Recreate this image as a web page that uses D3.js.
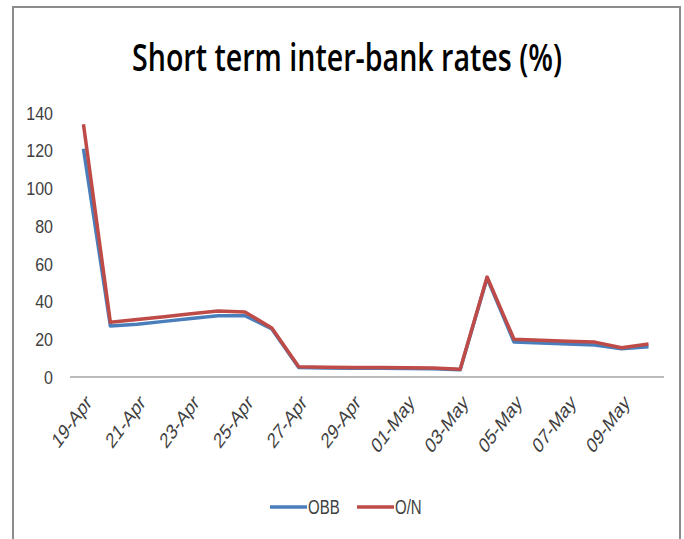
<!DOCTYPE html>
<html>
<head>
<meta charset="utf-8">
<script src="https://cdn.jsdelivr.net/npm/d3@7"></script>
<style>
  body { margin: 0; background: #fff; }
  svg { display: block; }
</style>
</head>
<body>
<div id="chart"></div>
<script>
// daily categories 19-Apr .. 10-May
let days = ['19-Apr','20-Apr','21-Apr','22-Apr','23-Apr','24-Apr','25-Apr','26-Apr','27-Apr','28-Apr','29-Apr','30-Apr',
            '01-May','02-May','03-May','04-May','05-May','06-May','07-May','08-May','09-May','10-May'];
let obb = [121, 27, 28, 29.5, 31, 32.5, 32.5, 25.5, 5, 4.8, 4.7, 4.6, 4.5, 4.4, 3.8, 52.5, 18.5, 18, 17.5, 17, 15, 16];
let on  = [134, 29, 30.5, 32, 33.5, 35, 34.5, 26, 5.4, 5.2, 5.1, 5, 4.9, 4.8, 4.1, 53, 20, 19.5, 19, 18.5, 15.5, 17.5];
let yTicks = [0, 20, 40, 60, 80, 100, 120, 140];
let xLabels = days.filter((d, i) => i % 2 == 0);
let seriesNames = ['OBB', 'O/N'];
let seriesColors = ['#4a7ebb', '#be4b48'];

let width = 684;
let height = 539;
let stretch = 1.34;   // the picture is stretched vertically, so is its text

let svg = d3.select('#chart').append('svg')
            .attr('width', width)
            .attr('height', height);

// outer frame
svg.append('rect')
    .attr('x', 13).attr('y', 7)
    .attr('width', 667).attr('height', 545)
    .attr('fill', 'none')
    .attr('stroke', '#8c8c8c')
    .attr('stroke-width', 2);

svg.append('text')
    .attr('transform', 'translate(347,71) scale(1,1.2)')
    .attr('text-anchor', 'middle')
    .attr('textLength', 430)
    .attr('lengthAdjust', 'spacingAndGlyphs')
    .style('font-family', 'Open Sans, sans-serif')
    .style('font-weight', 600)
    .style('font-size', '32px')
    .attr('fill', '#000')
    .text('Short term inter-bank rates (%)');

let x = d3.scalePoint()
            .domain(days)
            .range([70, 662])
            .padding(0.5);
let y = d3.scaleLinear()
            .domain([0, 140])
            .range([377, 113]);

// y labels
svg.append('g')
    .selectAll('text')
    .data(yTicks)
    .join('text')
        .attr('transform', d => `translate(53,${y(d)}) scale(1,1.2)`)
        .attr('dy', '0.35em')
        .attr('text-anchor', 'end')
        .style('font-family', 'Liberation Sans, sans-serif')
        .style('font-size', '16px')
        .attr('fill', '#404040')
        .text(d => d);

// x axis line
svg.append('line')
    .attr('x1', 70).attr('x2', 664)
    .attr('y1', y(0)).attr('y2', y(0))
    .attr('stroke', '#a6a6a6')
    .attr('stroke-width', 1.5);

// x labels, rotated
svg.append('g')
    .selectAll('text')
    .data(xLabels)
    .join('text')
        .attr('transform', d => `translate(${x(d) + 9},${y(0) + 27}) scale(1,${stretch}) rotate(-45)`)
        .attr('text-anchor', 'end')
        .style('font-family', 'Liberation Sans, sans-serif')
        .style('font-size', '16px')
        .attr('fill', '#404040')
        .text(d => d);

let line = d3.line()
            .x((d, i) => x(days[i]))
            .y(d => y(d));

[obb, on].forEach((s, k) => {
    svg.append('path')
        .attr('d', line(s))
        .attr('fill', 'none')
        .attr('stroke', seriesColors[k])
        .attr('stroke-width', 3.5)
        .attr('stroke-linejoin', 'round');
});

// legend
let legend = svg.append('g');
let legX = [270, 357];
seriesNames.forEach((n, k) => {
    legend.append('line')
        .attr('x1', legX[k]).attr('x2', legX[k] + 37)
        .attr('y1', 507).attr('y2', 507)
        .attr('stroke', seriesColors[k])
        .attr('stroke-width', 3.5);
    legend.append('text')
        .attr('transform', `translate(${legX[k] + 38},507) scale(1,${stretch})`)
        .attr('dy', '0.35em')
        .style('font-family', 'Liberation Sans, sans-serif')
        .style('font-size', '15px')
        .attr('fill', '#404040')
        .text(n);
});
</script>
</body>
</html>
